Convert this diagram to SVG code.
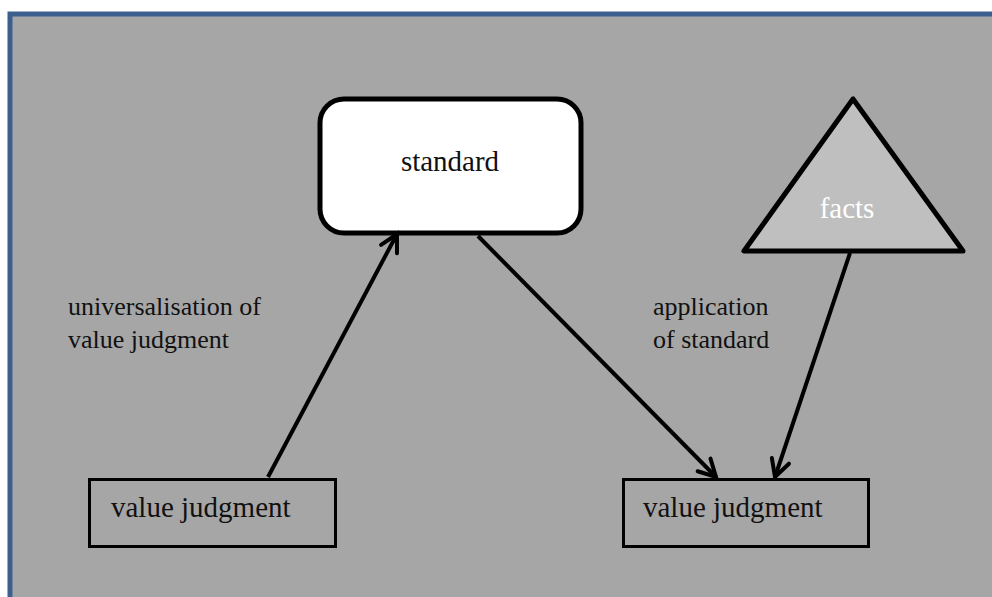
<svg xmlns="http://www.w3.org/2000/svg" width="992" height="597" viewBox="0 0 992 597">
<defs>
<style>
.lbl{font-family:"Liberation Serif","Times New Roman",serif;fill:#111;}
.big{font-size:29px;}
.small{font-size:26px;}
.edge{stroke:#000;stroke-width:4;fill:none;marker-end:url(#arr);}
</style>
<marker id="arr" markerUnits="userSpaceOnUse" markerWidth="30" markerHeight="30" viewBox="-20 -15 30 30" refX="0" refY="0" orient="auto">
<path d="M -17 -9 L 0 0 L -17 9" fill="none" stroke="#000" stroke-width="4" stroke-linecap="round" stroke-linejoin="miter"/>
</marker>
</defs>
<rect x="0" y="0" width="992" height="597" fill="#ffffff"/>
<rect id="frame" x="10" y="14" width="1000" height="600" fill="#a6a6a6" stroke="#3c5f8d" stroke-width="5"/>
<g id="standard">
<rect x="320" y="99" width="261" height="134" rx="24" ry="24" fill="#ffffff" stroke="#000" stroke-width="5"/>
<text class="lbl big" x="450" y="171" text-anchor="middle">standard</text>
</g>
<g id="facts">
<polygon points="853,99 744,251 963,251" fill="#bfbfbf" stroke="#000" stroke-width="5" stroke-linejoin="round"/>
<text class="lbl big" x="847" y="218" text-anchor="middle" style="fill:#ffffff">facts</text>
</g>
<g id="vj-left">
<rect x="89.5" y="479.5" width="246" height="67" fill="none" stroke="#000" stroke-width="3"/>
<text class="lbl big" x="111" y="517">value judgment</text>
</g>
<g id="vj-right">
<rect x="623.5" y="479.5" width="245" height="67" fill="none" stroke="#000" stroke-width="3"/>
<text class="lbl big" x="643" y="517">value judgment</text>
</g>
<g id="connectors">
<line class="edge" x1="268" y1="477" x2="397" y2="234"/>
<line class="edge" x1="478" y1="236" x2="716" y2="477"/>
<line class="edge" x1="850" y1="253" x2="775" y2="477"/>
</g>
<g id="labels">
<text class="lbl small" x="68" y="315">universalisation of</text>
<text class="lbl small" x="68" y="348">value judgment</text>
<text class="lbl small" x="653" y="315">application</text>
<text class="lbl small" x="653" y="348">of standard</text>
</g>
</svg>
